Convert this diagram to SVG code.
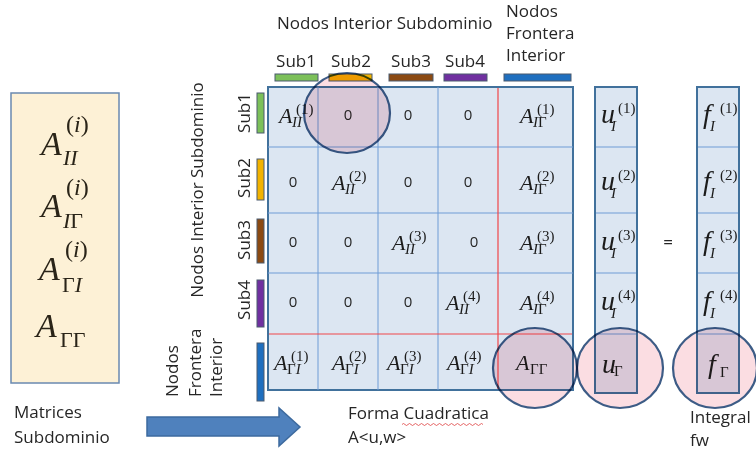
<svg xmlns="http://www.w3.org/2000/svg" width="756" height="454" viewBox="0 0 756 454">
  <style>
    .lbl { font-family: "Open Sans", "Liberation Sans", sans-serif; font-size: 17px; fill: #262626; }
    .zero { font-family: "Open Sans", "Liberation Sans", sans-serif; font-size: 15px; fill: #262626; text-anchor: middle; }
    .mA { font-family: "Liberation Serif", serif; font-style: italic; font-size: 22px; fill: #1c1c1c; }
    .mV { font-family: "Liberation Serif", serif; font-style: italic; font-size: 28px; fill: #1c1c1c; }
    .mS { font-family: "Liberation Serif", serif; font-style: italic; font-size: 15px; fill: #1c1c1c; }
    .bA { font-family: "Liberation Serif", serif; font-style: italic; font-size: 34px; fill: #2a2418; }
    .bS { font-family: "Liberation Serif", serif; font-style: italic; font-size: 22px; fill: #2a2418; }
    .bP { font-family: "Liberation Serif", serif; font-style: italic; font-size: 24px; fill: #2a2418; }
    .up { font-style: normal; }
    .grid { fill: #dce6f2; stroke: #41719c; stroke-width: 2; }
    .cell { stroke: #6f9cd6; stroke-width: 1; fill: none; }
    .split { stroke: #f0474a; stroke-width: 1.2; fill: none; }
    .ring { fill: #fbdde2; stroke: #3d5c86; stroke-width: 2.2; mix-blend-mode: multiply; }
    .bar { stroke: #4a5a6e; stroke-width: 1; }
  </style>

  <!-- subdomain matrices box -->
  <g id="subdomain-matrices">
    <rect x="11" y="93" width="108" height="290" fill="#fdf1d6" stroke="#6a89b0" stroke-width="1.5"/>
    <text class="bA" x="41" y="155">A</text>
    <text class="bS" x="63" y="165">II</text>
    <text class="bP" x="66" y="132"><tspan class="up">(</tspan>i<tspan class="up">)</tspan></text>
    <text class="bA" x="41" y="217">A</text>
    <text class="bS" x="63" y="228">I<tspan class="up">Γ</tspan></text>
    <text class="bP" x="66" y="195"><tspan class="up">(</tspan>i<tspan class="up">)</tspan></text>
    <text class="bA" x="39" y="280">A</text>
    <text class="bS" x="62" y="292"><tspan class="up">Γ</tspan>I</text>
    <text class="bP" x="65" y="257"><tspan class="up">(</tspan>i<tspan class="up">)</tspan></text>
    <text class="bA" x="36" y="337">A</text>
    <text class="bS" x="60" y="347"><tspan class="up">ΓΓ</tspan></text>
    <text class="lbl" x="14" y="418">Matrices</text>
    <text class="lbl" x="14" y="443">Subdominio</text>
  </g>

  <!-- column headers -->
  <g id="column-headers">
    <text class="lbl" x="277" y="29">Nodos Interior Subdominio</text>
    <text class="lbl" x="506" y="17">Nodos</text>
    <text class="lbl" x="506" y="39">Frontera</text>
    <text class="lbl" x="506" y="61">Interior</text>
    <text class="lbl" x="296" y="67" text-anchor="middle">Sub1</text>
    <text class="lbl" x="351" y="67" text-anchor="middle">Sub2</text>
    <text class="lbl" x="411" y="67" text-anchor="middle">Sub3</text>
    <text class="lbl" x="465" y="67" text-anchor="middle">Sub4</text>
    <rect class="bar" x="275" y="74" width="43" height="7" fill="#7cc05a"/>
    <rect class="bar" x="329" y="74" width="43" height="7" fill="#f2b300"/>
    <rect class="bar" x="389" y="74" width="44" height="7" fill="#8b4a12"/>
    <rect class="bar" x="444" y="74" width="43" height="7" fill="#7030a0"/>
    <rect class="bar" x="504" y="74" width="67" height="7" fill="#1f6fbf"/>
  </g>

  <!-- row headers -->
  <g id="row-headers">
    <text class="lbl" font-size="15" transform="translate(203 190) rotate(-90)" text-anchor="middle">Nodos Interior Subdominio</text>
    <text class="lbl" font-size="16" transform="translate(250 113) rotate(-90)" text-anchor="middle">Sub1</text>
    <text class="lbl" font-size="16" transform="translate(250 178) rotate(-90)" text-anchor="middle">Sub2</text>
    <text class="lbl" font-size="16" transform="translate(250 240) rotate(-90)" text-anchor="middle">Sub3</text>
    <text class="lbl" font-size="16" transform="translate(250 300) rotate(-90)" text-anchor="middle">Sub4</text>
    <text class="lbl" font-size="16" transform="translate(178 397) rotate(-90)">Nodos</text>
    <text class="lbl" font-size="16" transform="translate(201 397) rotate(-90)">Frontera</text>
    <text class="lbl" font-size="16" transform="translate(222 397) rotate(-90)">Interior</text>
    <rect class="bar" x="257" y="93" width="7" height="40" fill="#7cc05a"/>
    <rect class="bar" x="257" y="159" width="7" height="41" fill="#f2b300"/>
    <rect class="bar" x="257" y="219" width="7" height="44" fill="#8b4a12"/>
    <rect class="bar" x="257" y="280" width="7" height="47" fill="#7030a0"/>
    <rect class="bar" x="257" y="343" width="7" height="58" fill="#1f6fbf"/>
  </g>

  <!-- block matrix -->
  <g id="matrix">
    <rect class="grid" x="268" y="87" width="305" height="303"/>
    <path class="cell" d="M318 87V390M378 87V390M438 87V390M268 147H573M268 213H573M268 273H573"/>
    <path class="split" d="M498 88V389M269 334H572"/>
    <!-- row 1 -->
    <text class="mA" x="279" y="123">A</text><text class="mS" x="292" y="127">II</text><text class="mS" x="296" y="114"><tspan class="up">(1)</tspan></text>
    <text class="zero" x="348" y="120">0</text>
    <text class="zero" x="408" y="120">0</text>
    <text class="zero" x="468" y="120">0</text>
    <text class="mA" x="520" y="123">A</text><text class="mS" x="533" y="127">I<tspan class="up">Γ</tspan></text><text class="mS" x="537" y="114"><tspan class="up">(1)</tspan></text>
    <!-- row 2 -->
    <text class="zero" x="293" y="187">0</text>
    <text class="mA" x="332" y="190">A</text><text class="mS" x="345" y="194">II</text><text class="mS" x="349" y="181"><tspan class="up">(2)</tspan></text>
    <text class="zero" x="408" y="187">0</text>
    <text class="zero" x="468" y="187">0</text>
    <text class="mA" x="520" y="190">A</text><text class="mS" x="533" y="194">I<tspan class="up">Γ</tspan></text><text class="mS" x="537" y="181"><tspan class="up">(2)</tspan></text>
    <!-- row 3 -->
    <text class="zero" x="293" y="247">0</text>
    <text class="zero" x="348" y="247">0</text>
    <text class="mA" x="392" y="250">A</text><text class="mS" x="405" y="254">II</text><text class="mS" x="409" y="241"><tspan class="up">(3)</tspan></text>
    <text class="zero" x="474" y="247">0</text>
    <text class="mA" x="520" y="250">A</text><text class="mS" x="533" y="254">I<tspan class="up">Γ</tspan></text><text class="mS" x="537" y="241"><tspan class="up">(3)</tspan></text>
    <!-- row 4 -->
    <text class="zero" x="293" y="307">0</text>
    <text class="zero" x="348" y="307">0</text>
    <text class="zero" x="408" y="307">0</text>
    <text class="mA" x="446" y="310">A</text><text class="mS" x="459" y="314">II</text><text class="mS" x="463" y="301"><tspan class="up">(4)</tspan></text>
    <text class="mA" x="520" y="310">A</text><text class="mS" x="533" y="314">I<tspan class="up">Γ</tspan></text><text class="mS" x="537" y="301"><tspan class="up">(4)</tspan></text>
    <!-- row 5 -->
    <text class="mA" x="274" y="370">A</text><text class="mS" x="287" y="374"><tspan class="up">Γ</tspan>I</text><text class="mS" x="291" y="361"><tspan class="up">(1)</tspan></text>
    <text class="mA" x="332" y="370">A</text><text class="mS" x="345" y="374"><tspan class="up">Γ</tspan>I</text><text class="mS" x="349" y="361"><tspan class="up">(2)</tspan></text>
    <text class="mA" x="387" y="370">A</text><text class="mS" x="400" y="374"><tspan class="up">Γ</tspan>I</text><text class="mS" x="404" y="361"><tspan class="up">(3)</tspan></text>
    <text class="mA" x="447" y="370">A</text><text class="mS" x="460" y="374"><tspan class="up">Γ</tspan>I</text><text class="mS" x="464" y="361"><tspan class="up">(4)</tspan></text>
    <text class="mA" x="516" y="370">A</text><text class="mS" x="530" y="374"><tspan class="up">ΓΓ</tspan></text>
  </g>

  <!-- unknowns vector -->
  <g id="vector-u">
    <rect class="grid" x="595" y="87" width="42" height="306"/>
    <path class="cell" d="M596 147H636M596 213H636M596 273H636M596 334H636"/>
    <text class="mV" x="601" y="123">u</text><text class="mS" x="611" y="131">I</text><text class="mS" x="618" y="113"><tspan class="up">(1)</tspan></text>
    <text class="mV" x="601" y="190">u</text><text class="mS" x="611" y="198">I</text><text class="mS" x="618" y="180"><tspan class="up">(2)</tspan></text>
    <text class="mV" x="601" y="250">u</text><text class="mS" x="611" y="258">I</text><text class="mS" x="618" y="240"><tspan class="up">(3)</tspan></text>
    <text class="mV" x="601" y="310">u</text><text class="mS" x="611" y="318">I</text><text class="mS" x="618" y="300"><tspan class="up">(4)</tspan></text>
    <text class="mV" x="602" y="373">u</text><text class="mS" x="614" y="376"><tspan class="up">Γ</tspan></text>
  </g>

  <text class="lbl" x="668" y="248" text-anchor="middle">=</text>

  <!-- load vector -->
  <g id="vector-f">
    <rect class="grid" x="697" y="87" width="42" height="306"/>
    <path class="cell" d="M698 147H738M698 213H738M698 273H738M698 334H738"/>
    <text class="mV" x="703" y="123">f</text><text class="mS" x="710" y="131">I</text><text class="mS" x="720" y="113"><tspan class="up">(1)</tspan></text>
    <text class="mV" x="703" y="190">f</text><text class="mS" x="710" y="198">I</text><text class="mS" x="720" y="180"><tspan class="up">(2)</tspan></text>
    <text class="mV" x="703" y="250">f</text><text class="mS" x="710" y="258">I</text><text class="mS" x="720" y="240"><tspan class="up">(3)</tspan></text>
    <text class="mV" x="703" y="310">f</text><text class="mS" x="710" y="318">I</text><text class="mS" x="720" y="300"><tspan class="up">(4)</tspan></text>
    <text class="mV" x="708" y="373">f</text><text class="mS" x="720" y="377"><tspan class="up">Γ</tspan></text>
    <text class="lbl" x="690" y="423">Integral</text>
    <text class="lbl" x="690" y="446">fw</text>
  </g>

  <!-- highlight rings (multiply blend keeps the cell text dark) -->
  <g id="highlights">
    <ellipse class="ring" cx="347" cy="113" rx="43" ry="40"/>
    <ellipse class="ring" cx="535" cy="368" rx="42" ry="40"/>
    <ellipse class="ring" cx="620" cy="368" rx="43" ry="40"/>
    <ellipse class="ring" cx="715" cy="368" rx="42" ry="40"/>
  </g>

  <!-- quadratic form caption -->
  <g id="quadratic-form">
    <text class="lbl" x="348" y="419">Forma Cuadratica</text>
    <text class="lbl" x="348" y="443">A&lt;u,w&gt;</text>
    <path d="M402 424.5q1.5 -2 3 0t3 0t3 0t3 0t3 0t3 0t3 0t3 0t3 0t3 0t3 0t3 0t3 0t3 0t3 0t3 0t3 0t3 0t3 0t3 0t3 0t3 0t3 0t3 0t3 0t3 0t3 0" fill="none" stroke="#e04040" stroke-width="0.8"/>
  </g>

  <g id="connectors">
    <polygon points="147,417 279,417 279,408 300,427 279,446 279,436 147,436" fill="#4f81bd" stroke="#3d6a9e" stroke-width="1.5"/>
  </g>
</svg>
